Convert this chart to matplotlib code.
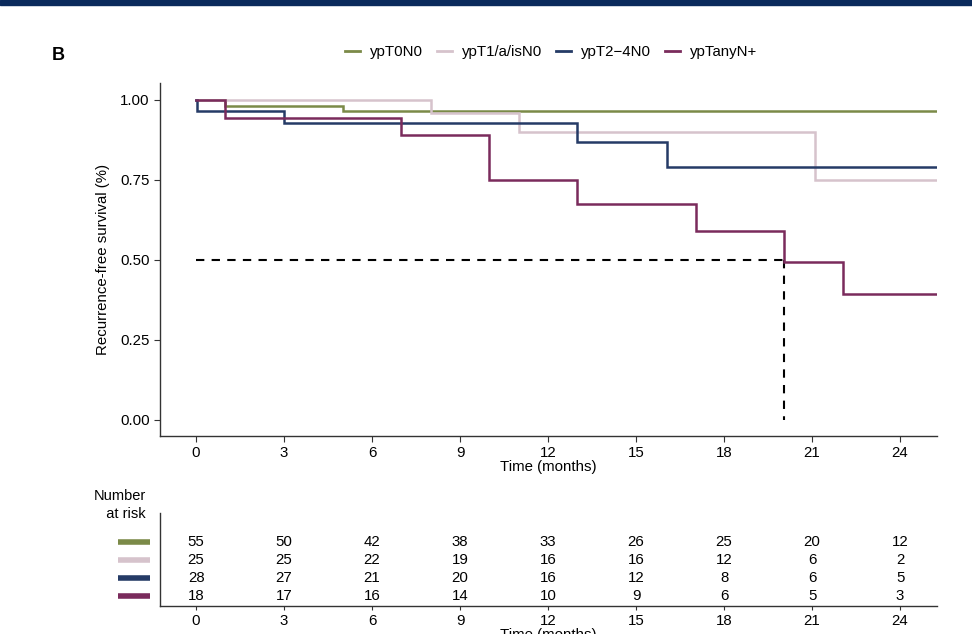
import matplotlib
matplotlib.use("Agg")
import matplotlib.pyplot as plt
from matplotlib.patches import Rectangle
from matplotlib.lines import Line2D
import matplotlib.transforms as mtransforms

plt.rcParams['font.family'] = ['Liberation Sans', 'DejaVu Sans']

# ---- data ----
groups = ["ypT0N0", "ypT1/a/isN0", "ypT2\u22124N0", "ypTanyN+"]
colors = ["#7b8a48", "#d6c3cc", "#253b66", "#7a2b5c"]

t_green = [0, 1.0, 5.0]
s_green = [1.0, 0.982, 0.964]
t_pink = [0, 8.0, 11.0, 21.1]
s_pink = [1.0, 0.96, 0.90, 0.75]
t_blue = [0, 0.02, 3.0, 13.0, 16.05]
s_blue = [1.0, 0.964, 0.929, 0.868, 0.79]
t_maroon = [0, 1.0, 7.0, 10.0, 13.0, 17.05, 20.05, 22.05]
s_maroon = [1.0, 0.944, 0.889, 0.75, 0.675, 0.59, 0.493, 0.395]
t_end = 25.3

median_time = 20.05

risk_times = [0, 3, 6, 9, 12, 15, 18, 21, 24]
risk_green = [55, 50, 42, 38, 33, 26, 25, 20, 12]
risk_pink = [25, 25, 22, 19, 16, 16, 12, 6, 2]
risk_blue = [28, 27, 21, 20, 16, 12, 8, 6, 5]
risk_maroon = [18, 17, 16, 14, 10, 9, 6, 5, 3]

y_ticks = [0.00, 0.25, 0.50, 0.75, 1.00]

# ---- figure ----
W, H = 972, 634
fig = plt.figure(figsize=(W / 100, H / 100), dpi=100)

# top navy bar
fig.patches.append(Rectangle((0, 1 - 5 / H), 1, 5 / H, transform=fig.transFigure,
                             color="#0a2a5c", zorder=10))

L, R = 160 / W, 937 / W
ax = fig.add_axes([L, 1 - 436 / H, R - L, (436 - 83) / H])

curves = [(t_green, s_green), (t_pink, s_pink), (t_blue, s_blue), (t_maroon, s_maroon)]
for (t, s), c, g in zip(curves, colors, groups):
    ax.step(list(t) + [t_end], list(s) + [s[-1]], where="post", color=c, lw=1.8,
            label=g, solid_joinstyle="miter")

ax.plot([0, median_time], [0.5, 0.5], ls=(0, (4, 3.5)), color="black", lw=1.5, zorder=1)
ax.plot([median_time, median_time], [0.5, 0.0], ls=(0, (4, 3.5)), color="black", lw=1.5, zorder=1)

xlim = (-1.23, 25.26)
ax.set_xlim(*xlim)
ax.set_ylim(-0.05, 1.053)
ax.set_xticks(risk_times)
ax.set_yticks(y_ticks)
ax.set_yticklabels([f"{v:.2f}" for v in y_ticks])
for sp in ["top", "right"]:
    ax.spines[sp].set_visible(False)
for sp in ["left", "bottom"]:
    ax.spines[sp].set_color("#333333")
    ax.spines[sp].set_linewidth(1.0)
ax.tick_params(labelsize=10.8, length=4, color="#333333", labelcolor="black")
ax.set_xlabel("Time (months)", fontsize=10.8, labelpad=0)
ax.set_ylabel("Recurrence-free survival (%)", fontsize=10.8, labelpad=7)

handles = [Line2D([0], [0], color=c, lw=2) for c in colors]
fig.legend(handles, groups, loc="center", bbox_to_anchor=(551 / W, 1 - 52 / H), ncol=4,
           frameon=False, fontsize=10.8, handlelength=1.0, handletextpad=0.7,
           columnspacing=0.9)

fig.text(52 / W, 1 - 55 / H, "B", fontsize=13, fontweight="bold", va="center", ha="left")

# ---- risk table ----
axr = fig.add_axes([L, 1 - 606 / H, R - L, (606 - 513) / H])
axr.set_xlim(*xlim)
axr.set_ylim(0.444, 5.61)
rows = [risk_green, risk_pink, risk_blue, risk_maroon]
row_y = [4, 3, 2, 1]
for vals, y in zip(rows, row_y):
    for t, v in zip(risk_times, vals):
        axr.text(t, y, str(v), ha="center", va="center", fontsize=10.8)
trans = mtransforms.blended_transform_factory(axr.transAxes, axr.transData)
for c, y in zip(colors, row_y):
    axr.plot([(118 - 160) / 777, (150 - 160) / 777], [y, y], color=c, lw=4,
             transform=trans, clip_on=False, solid_capstyle="butt")
axr.set_xticks(risk_times)
axr.set_yticks([])
for sp in ["top", "right"]:
    axr.spines[sp].set_visible(False)
for sp in ["left", "bottom"]:
    axr.spines[sp].set_color("#333333")
    axr.spines[sp].set_linewidth(1.0)
axr.tick_params(labelsize=10.8, length=3, pad=2.5, color="#333333")
axr.set_xlabel("Time (months)", fontsize=10.8, labelpad=0)

fig.text(146 / W, 1 - 505 / H, "Number\n  at risk", fontsize=10.5, ha="right", va="center",
         linespacing=1.3)

fig.savefig("out.png", dpi=100)
